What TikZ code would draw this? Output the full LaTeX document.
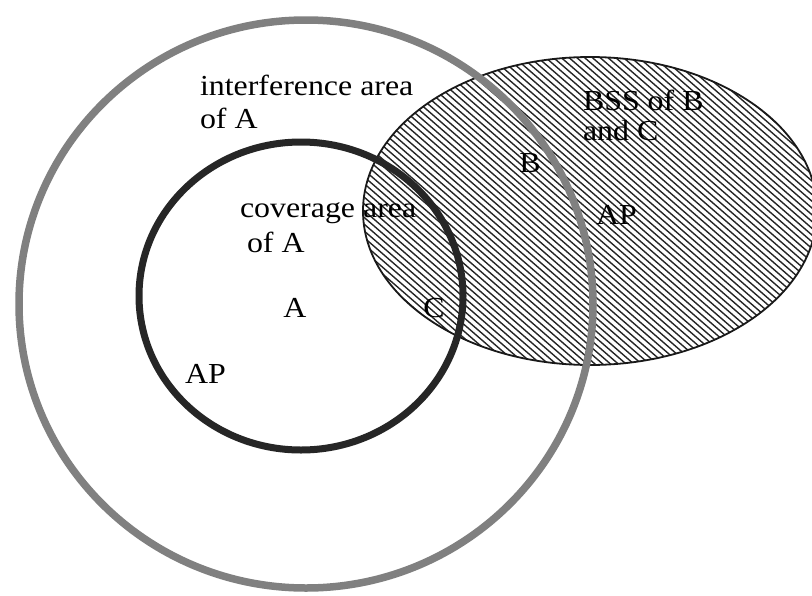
\documentclass[tikz,border=0pt]{standalone}
\usepackage{fontspec}
\setmainfont{Liberation Serif}
\begin{document}
\begin{tikzpicture}[x={(1pt,0)}, y={(0,-1pt)},
  lbl/.style={inner sep=0pt, outer sep=0pt, anchor=base west, font=\fontsize{29}{33}\selectfont},
  hatchline/.style={line width=1.4pt, black!85},
  ring/.style={line width=7.5pt, black!50},
  covring/.style={line width=7pt, black!85},
  bssedge/.style={line width=1.8pt, black!90}]
\useasboundingbox (0,0) rectangle (812,595);
\fill[white] (0,0) rectangle (812,595);
% hatched BSS ellipse
\begin{scope}
  \clip (590,211) ellipse [x radius=227, y radius=154];
  \begin{scope}[shift={(590,211)}, rotate=-41]
    \foreach \k in {-60,...,60} \draw[hatchline] (-320,\k*5.1) -- (320,\k*5.1);
  \end{scope}
\end{scope}
\draw[bssedge] (590,211) ellipse [x radius=227, y radius=154];
% interference ring
\draw[ring] (306,304) ellipse [x radius=287, y radius=284];
% coverage circle
\draw[covring] (301,296) ellipse [x radius=162, y radius=154];
% labels
\node[lbl] (int1) at (200,95) {\scalebox{1.1}[1]{interference area}};
\node[lbl] (int2) at (200,128) {\scalebox{1.1}[1]{of A}};
\node[lbl] (cov1) at (240,217) {\scalebox{1.1}[1]{coverage area}};
\node[lbl] (cov2) at (247,252) {\scalebox{1.1}[1]{of A}};
\node[lbl, anchor=base] (a) at (295,317) {\scalebox{1.1}[1]{A}};
\node[lbl, anchor=base] (c) at (434,317) {\scalebox{1.1}[1]{C}};
\node[lbl] (apa) at (185,383) {\scalebox{1.1}[1]{AP}};
\node[lbl, anchor=base] (b) at (530,172) {\scalebox{1.1}[1]{B}};
\node[lbl] (apb) at (596,224) {\scalebox{1.1}[1]{AP}};
\node[lbl] (bss1) at (583,110) {\scalebox{1.1}[1]{BSS of B}};
\node[lbl] (bss2) at (583,140) {\scalebox{1.1}[1]{and C}};
\end{tikzpicture}
\end{document}
